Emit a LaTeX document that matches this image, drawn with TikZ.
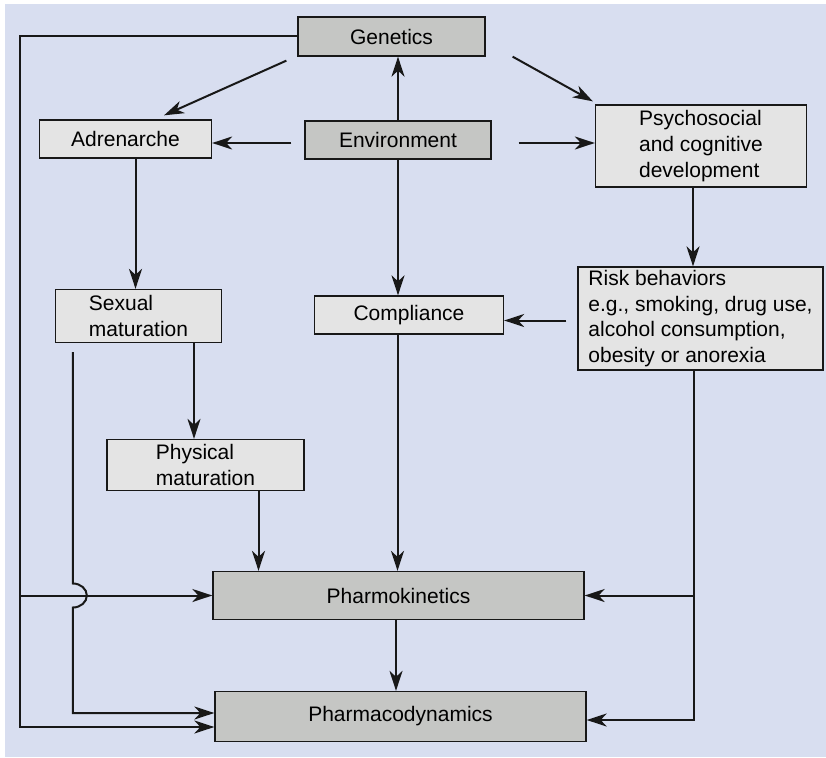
\documentclass[tikz,border=0pt]{standalone}
\usepackage{fontspec}
\setmainfont{Liberation Sans}
\usetikzlibrary{arrows.meta, calc}
\definecolor{bgBlue}{RGB}{216,222,240}
\definecolor{darkGray}{RGB}{197,198,196}
\definecolor{lightGray}{RGB}{228,228,228}
\definecolor{lineBlack}{RGB}{24,24,24}
\tikzstyle{arrow} = [-{Stealth[length=20pt,width=13pt,inset=6pt]}, draw=lineBlack, line width=2pt]
\tikzstyle{block} = [draw=lineBlack, rectangle, line width=1.3pt, fill=lightGray, align=left, inner sep=0pt, font=\fontsize{21}{25.7}\selectfont]
\tikzstyle{darkblock} = [block, fill=darkGray]

\begin{document}
\begin{tikzpicture}[x=1pt, y=-1pt, thick]
        \useasboundingbox (0,0) rectangle (826,757);
        \fill [bgBlue] (5,4) rectangle (826,757);

        \node [darkblock, minimum width=187pt, minimum height=39pt] (genetics) at (391.5,36.5) {Genetics};
        \node [block, minimum width=172pt, minimum height=38pt] (adrenarche) at (125.5,139) {Adrenarche};
        \node [darkblock, minimum width=186pt, minimum height=38pt] (environment) at (398,140) {Environment};
        \node [block, minimum width=211pt, minimum height=82pt] (psychoSocial) at (701,146) {Psychosocial\\and cognitive\\development};
        \node [block, minimum width=245pt, minimum height=103pt] (riskBehaviors) at (700.5,318.5) {Risk behaviors\\e.g., smoking, drug use,\\alcohol consumption,\\obesity or anorexia};
        \node [block, minimum width=189pt, minimum height=38pt] (compliance) at (409,315) {Compliance};
        \node [block, minimum width=166pt, minimum height=53pt] (sexualMaturation) at (138.5,316) {Sexual\\maturation};
        \node [block, minimum width=197pt, minimum height=51pt] (physicalMaturation) at (205.5,465) {Physical\\maturation};
        \node [darkblock, minimum width=371pt, minimum height=48pt] (pharmokinetics) at (398.5,595.5) {Pharmokinetics};
        \node [darkblock, minimum width=371pt, minimum height=50pt] (pharmacodynamics) at (400.5,716.5) {Pharmacodynamics};

        \draw [arrow] ($(genetics.south west)+(-11,4)$) -- ($(adrenarche.north)+(38.5,-4)$);
        \draw [arrow] ($(genetics.south east)+(27,0)$) -- ($(psychoSocial.north west)+(-2,-3)$);
        \draw [arrow] (environment.north) -- (environment.north |- genetics.south);
        \draw [arrow] ($(environment.west)+(-13,3)$) -- ($(adrenarche.east)+(0,4)$);
        \draw [arrow] ($(environment.east)+(27,3)$) -- ($(psychoSocial.west)+(0,-3)$);
        \draw [arrow] (environment.south) -- (environment.south |- compliance.north);
        \draw [arrow] ([xshift=10pt]adrenarche.south) -- ([xshift=10pt]adrenarche.south |- sexualMaturation.north);
        \draw [arrow] ([xshift=-8pt]psychoSocial.south) -- ([xshift=-8pt]psychoSocial.south |- riskBehaviors.north);
        \draw [arrow] ($(riskBehaviors.west)+(-11,2)$) -- ($(compliance.east)+(0,5.5)$);
        \draw [arrow] ([xshift=55.5pt]sexualMaturation.south) -- ([xshift=55.5pt]sexualMaturation.south |- physicalMaturation.north);
        \draw [arrow] ([xshift=53pt]physicalMaturation.south) -- ([xshift=53pt]physicalMaturation.south |- pharmokinetics.north);
        \draw [arrow] ([xshift=-11.5pt]compliance.south) -- ([xshift=-11.5pt]compliance.south |- pharmokinetics.north);
        \draw [arrow] ([xshift=-2.5pt]pharmokinetics.south) -- ([xshift=-2.5pt]pharmokinetics.south |- pharmacodynamics.north);

        \coordinate (leftBus) at (20,37);
        \draw [arrow] (genetics.west) -- (genetics.west -| leftBus) |- ([yshift=-10.5pt]pharmacodynamics.west);
        \draw [arrow] (leftBus |- pharmokinetics.west) -- (pharmokinetics.west);

        \coordinate (sexTail) at ($(sexualMaturation.south west)+(18,9)$);
        \path (sexTail |- pharmokinetics.west) coordinate (hopMid);
        \draw [arrow] (sexTail) -- ([yshift=12pt]hopMid) arc [start angle=90, end angle=-90, x radius=14pt, y radius=12pt] |- ([yshift=3.5pt]pharmacodynamics.west);

        \coordinate (rightBus) at ([xshift=-6.5pt]riskBehaviors.south);
        \draw [arrow] (rightBus) |- ([yshift=-3.5pt]pharmacodynamics.east);
        \draw [arrow] (rightBus |- pharmokinetics.east) -- (pharmokinetics.east);
    \end{tikzpicture}
\end{document}
